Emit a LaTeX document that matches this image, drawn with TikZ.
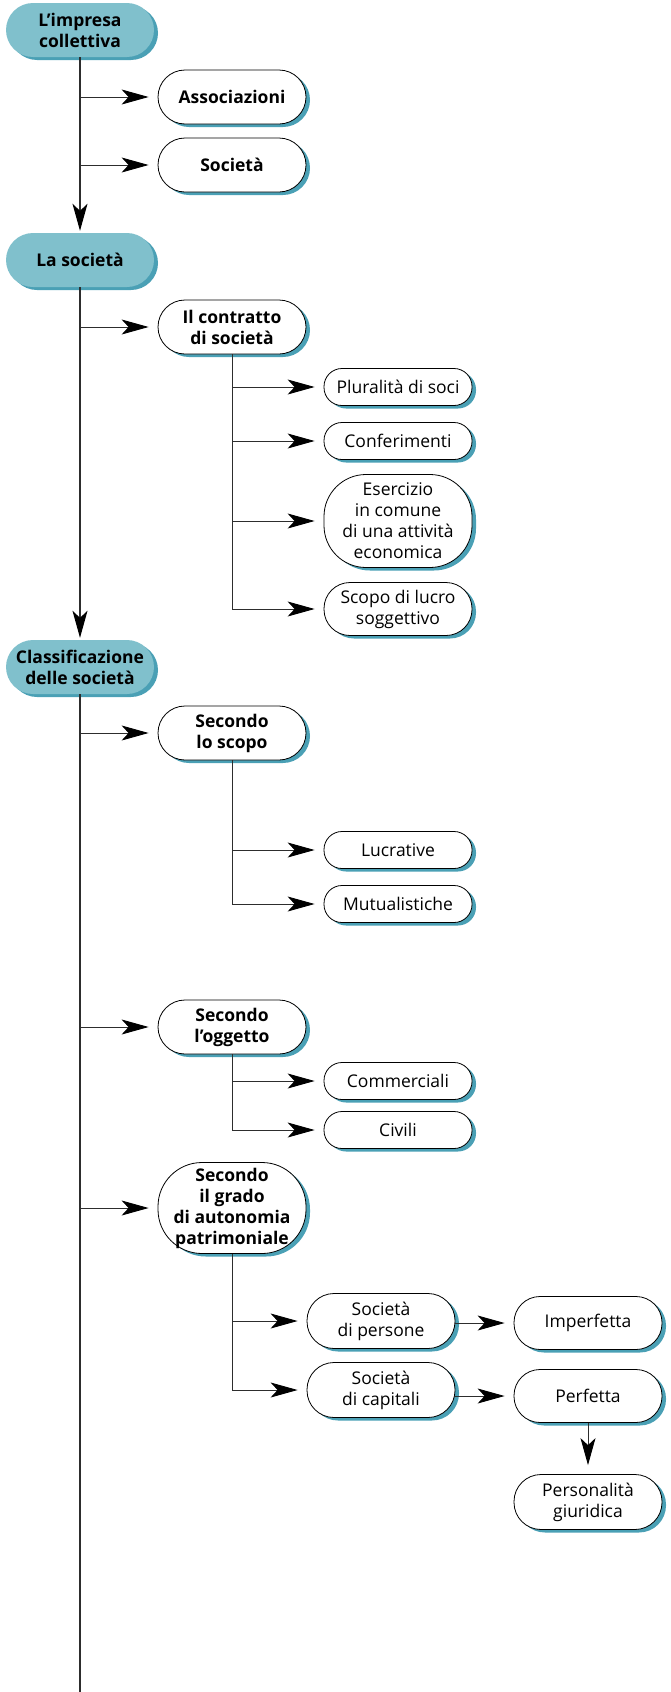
\documentclass[tikz,border=0pt]{standalone}
\usepackage{fontspec}
\setmainfont{Open Sans}
\usetikzlibrary{arrows.meta,shadows,positioning}

\definecolor{tealfill}{RGB}{128,192,204}
\definecolor{tealshade}{RGB}{74,160,181}
\definecolor{linea}{RGB}{45,45,45}

\tikzset{
  ombra/.style={drop shadow={shadow xshift=4pt, shadow yshift=-3pt, fill=tealshade, opacity=1}},
  tema/.style={ombra, fill=tealfill, minimum width=148pt, minimum height=54pt,
    rounded corners=27pt, inner sep=0pt, align=center,
    font=\fontsize{17.5}{21}\selectfont\bfseries},
  ramo/.style={ombra, draw=black, line width=0.8pt, fill=white, minimum width=148pt,
    minimum height=54pt, rounded corners=27pt, inner sep=0pt, align=center,
    font=\fontsize{17.5}{21}\selectfont\bfseries},
  voce/.style={ombra, draw=black, line width=0.8pt, fill=white, minimum width=148pt,
    minimum height=37pt, rounded corners=18pt, inner sep=0pt, align=center,
    font=\fontsize{17.5}{21}\selectfont},
  arr/.style={draw=linea, line width=0.9pt,
    -{Stealth[length=27pt,width=15pt,inset=7pt,color=black]}, shorten >=9pt},
  tronco/.style={draw=linea, line width=1.2pt}
}

\begin{document}
\begin{tikzpicture}[x=1pt,y=1pt]
    \useasboundingbox (0,0) rectangle (671,-1692);

    % main topics
    \node[tema] (impresa) at (80,-30) {L’impresa\\collettiva};
    \node[tema] (lasoc) at (80,-260) {La società};
    \node[tema] (classif) at (80,-667) {Classificazione\\delle società};
    \coordinate (fine) at (80,-1692);

    % first level
    \node[ramo] (assoc) at (232,-97) {Associazioni};
    \node[ramo] (societa) at (232,-165) {Società};
    \node[ramo] (contratto) at (232,-327) {Il contratto\\di società};
    \node[ramo] (scopo) at (232,-733) {Secondo\\lo scopo};
    \node[ramo] (oggetto) at (232,-1027) {Secondo\\l’oggetto};
    \node[ramo, minimum height=91pt, rounded corners=44pt] (grado) at (232,-1208)
        {Secondo\\il grado\\di autonomia\\patrimoniale};

    % elements of the contract
    \node[voce] (pluralita) at (398,-387) {Pluralità di soci};
    \node[voce] (conferim) at (398,-441) {Conferimenti};
    \node[voce, minimum height=93pt, rounded corners=42pt] (esercizio) at (398,-521)
        {Esercizio\\in comune\\di una attività\\economica};
    \node[voce, minimum height=53pt, rounded corners=26pt] (lucro) at (398,-609)
        {Scopo di lucro\\soggettivo};

    % classifications
    \node[voce] (lucrative) at (398,-850) {Lucrative};
    \node[voce] (mutual) at (398,-904) {Mutualistiche};
    \node[voce] (commerc) at (398,-1081) {Commerciali};
    \node[voce] (civili) at (398,-1130) {Civili};
    \node[voce, minimum height=55pt, rounded corners=27pt] (persone) at (381,-1321)
        {Società\\di persone};
    \node[voce, minimum height=55pt, rounded corners=27pt] (capitali) at (381,-1390)
        {Società\\di capitali};
    \node[voce, minimum height=53pt, rounded corners=26pt] (imperf) at (588,-1323) {Imperfetta};
    \node[voce, minimum height=53pt, rounded corners=26pt] (perf) at (588,-1396) {Perfetta};
    \node[voce, minimum height=55pt, rounded corners=27pt] (personal) at (588,-1502)
        {Personalità\\giuridica};

    % trunk
    \draw[tronco, arr, line width=1.2pt, shorten >=2pt] (impresa) -- (lasoc);
    \draw[tronco, arr, line width=1.2pt, shorten >=2pt] (lasoc) -- (classif);
    \draw[tronco] (classif) -- (fine);

    \draw[arr] (impresa.south |- assoc) -- (assoc);
    \draw[arr] (impresa.south |- societa) -- (societa);
    \draw[arr] (lasoc.south |- contratto) -- (contratto);
    \draw[arr] (classif.south |- scopo) -- (scopo);
    \draw[arr] (classif.south |- oggetto) -- (oggetto);
    \draw[arr] (classif.south |- grado) -- (grado);

    \draw[arr] (contratto.south |- pluralita) -- (pluralita);
    \draw[arr] (contratto.south |- conferim) -- (conferim);
    \draw[arr] (contratto.south |- esercizio) -- (esercizio);
    \draw[arr] (contratto.south) |- (lucro);

    \draw[arr] (scopo.south |- lucrative) -- (lucrative);
    \draw[arr] (scopo.south) |- (mutual);

    \draw[arr] (oggetto.south |- commerc) -- (commerc);
    \draw[arr] (oggetto.south) |- (civili);

    \draw[arr] (grado.south |- persone) -- (persone);
    \draw[arr] (grado.south) |- (capitali);
    \draw[arr] (persone.east |- imperf) -- (imperf);
    \draw[arr] (capitali.east |- perf) -- (perf);
    \draw[arr] (perf) -- (personal);
\end{tikzpicture}
\end{document}
